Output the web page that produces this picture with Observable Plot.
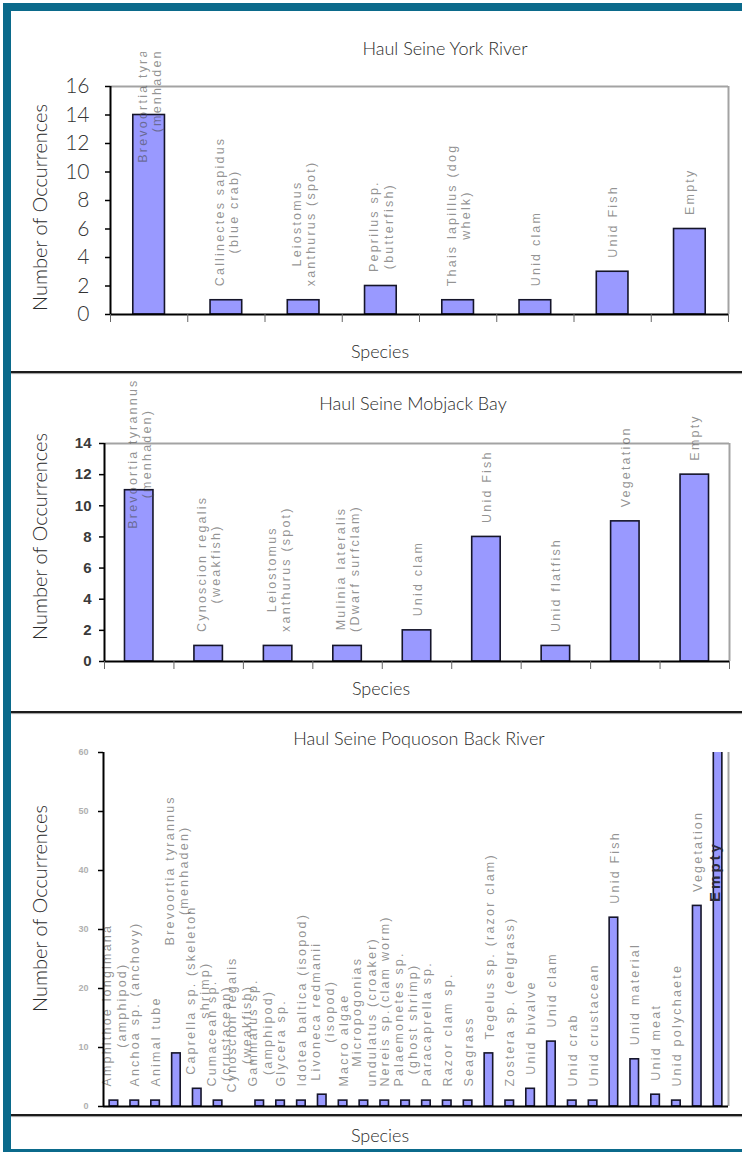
<!DOCTYPE html>
<html><head><meta charset="utf-8">
<script src="https://cdn.jsdelivr.net/npm/d3@7"></script>
<script src="https://cdn.jsdelivr.net/npm/@observablehq/plot@0.6"></script>
<style>
body{margin:0;background:#fff;}
#page{position:relative;width:742px;height:1152px;overflow:hidden;background:#fff;font-family:Lato,"Open Sans",sans-serif;}
.svgwrap{position:absolute;left:0;}
.svgwrap svg{overflow:hidden;display:block;}
.t{position:absolute;white-space:nowrap;transform:translate(-50%,-50%);color:#2a2a2a;font-size:18px;font-weight:300;line-height:1;z-index:3;}
.teal{position:absolute;background:#0b6a8b;z-index:5;}
.sep{position:absolute;left:11px;width:740px;height:2px;background:#1c1c1c;box-shadow:0 1px 1px #9a9a9a;z-index:4;}
</style></head><body><div id="page"></div><script>
// ---------- data ----------
const yorkSpecies = ["Brevoortia tyrannus\n(menhaden)", "Callinectes sapidus\n(blue crab)", "Leiostomus\nxanthurus (spot)", "Peprilus sp.\n(butterfish)", "Thais lapillus (dog\nwhelk)", "Unid clam", "Unid Fish", "Empty"];
const yorkCounts = [14, 1, 1, 2, 1, 1, 3, 6];
const yorkTicks = [0, 2, 4, 6, 8, 10, 12, 14, 16];

const mobjackSpecies = ["Brevoortia tyrannus\n(menhaden)", "Cynoscion regalis\n(weakfish)", "Leiostomus\nxanthurus (spot)", "Mulinia lateralis\n(Dwarf surfclam)", "Unid clam", "Unid Fish", "Unid flatfish", "Vegetation", "Empty"];
const mobjackCounts = [11, 1, 1, 1, 2, 8, 1, 9, 12];
const mobjackTicks = [0, 2, 4, 6, 8, 10, 12, 14];

const poqSpecies = ["Amphithoe longimana\n(amphipod)", "Anchoa sp. (anchovy)", "Animal tube", "Brevoortia tyrannus\n(menhaden)", "Caprella sp. (skeleton\nshrimp)", "Cumacean sp.\n(crustacean)", "Cynoscion regalis\n(weakfish)", "Gammarus sp.\n(amphipod)", "Glycera sp.", "Idotea baltica (isopod)", "Livoneca redmanii\n(isopod)", "Macro algae", "Micropogonias\nundulatus (croaker)", "Nereis sp.(clam worm)", "Palaemonetes sp.\n(ghost shrimp)", "Paracaprella sp.", "Razor clam sp.", "Seagrass", "Tegelus sp. (razor clam)", "Zostera sp. (eelgrass)", "Unid bivalve", "Unid clam", "Unid crab", "Unid crustacean", "Unid Fish", "Unid material", "Unid meat", "Unid polychaete", "Vegetation", "Empty"];
const poqCounts = [1, 1, 1, 9, 3, 1, 0, 1, 1, 1, 2, 1, 1, 1, 1, 1, 1, 1, 9, 1, 3, 11, 1, 1, 32, 8, 2, 1, 34, 62];
const poqTicks = [0, 10, 20, 30, 40, 50, 60];

const titles = ["Haul Seine York River", "Haul Seine Mobjack Bay", "Haul Seine Poquoson Back River"];
const yTitle = "Number of Occurrences";
const xTitle = "Species";

// ---------- helpers ----------
const W = 742;
const LABEL_FONT_SIZE = 12.5;
const LS = 2.2; // letter spacing of category labels
const GAP = 14;
const LABEL_FILL = "#4a4a4a";
const BOLD_FILL = "#2a2a3a";
const ctx = document.createElement("canvas").getContext("2d");
ctx.font = `${LABEL_FONT_SIZE}px "Liberation Sans"`;
const textW = s => ctx.measureText(s).width + LS * s.length;

const page = document.getElementById("page");
function addDiv(cls, css, txt) {
  const d = document.createElement("div");
  d.className = cls;
  Object.assign(d.style, css);
  if (txt != null) d.textContent = txt;
  page.appendChild(d);
  return d;
}

function panel(o) {
  const n = o.species.length;
  const step = (W - o.ml - o.mr) / n;
  const plotH = o.height - o.mt - o.mb;
  const k = plotH / o.yMax;
  const lift = o.labelLift || {};
  const data = o.species.map((s, i) => {
    const L = Math.max(...s.split("\n").map(textW));
    const v = o.counts[i];
    let c = Math.min(v, o.yMax) * k + GAP + L / 2 + (lift[s] || 0);
    if (c + L / 2 > o.maxAbove) c = o.maxAbove - L / 2;
    return {species: s, count: v, ly: c / k};
  });
  const labelData = data.filter(d => !(o.boldLabel && d.species === o.boldLabel));
  const marks = [];
  if (o.topLine) marks.push(Plot.ruleY([o.yMax], {stroke: "#a3a3a3", strokeWidth: 2}));
  marks.push(
    Plot.ruleX([o.species[n - 1]], {dx: step / 2, y1: 0, y2: o.yMax, stroke: "#a3a3a3", strokeWidth: 2}),
    Plot.barY(data.filter(d => d.count > 0), {x: "species", y: "count", fill: "#9999ff", stroke: "#15152a", strokeWidth: 1.6, clip: true}),
    Plot.text(labelData, {x: "species", y: "ly", text: "species", rotate: -90, textAnchor: "middle", lineAnchor: "middle", lineHeight: 1.15, fontSize: LABEL_FONT_SIZE, fontFamily: "Liberation Sans", fill: LABEL_FILL, fillOpacity: 0.6}),
    Plot.ruleY([0], {stroke: "#000", strokeWidth: 2}),
    Plot.ruleX([o.species[0]], {dx: -step / 2, y1: 0, y2: o.yMax, stroke: "#000", strokeWidth: 2}),
    Plot.axisY({ticks: o.yTicks, tickSize: 5, tickFormat: () => "", label: null, stroke: "#000", strokeWidth: 1.5}),
    Plot.text(o.yTicks, {y: d => d, text: d => String(d), frameAnchor: "left", dx: o.tickDx, textAnchor: "end", ...o.tickStyle}),
    Plot.text([yTitle], {text: d => d, frameAnchor: "left", textAnchor: "middle", dx: 40 - o.ml, dy: o.ytDy, rotate: -90, fontSize: 20, fontFamily: "Lato", fontWeight: 300, fill: "#2a2a2a"})
  );
  if (o.xTicks) {
    marks.push(
      Plot.axisX({ticks: o.species, tickSize: 8, tickFormat: () => "", label: null, dx: -step / 2, stroke: "#666"}),
      Plot.axisX({ticks: [o.species[n - 1]], tickSize: 8, tickFormat: () => "", label: null, dx: step / 2, stroke: "#666"})
    );
  }
  if (o.boldLabel) {
    marks.push(Plot.text([o.boldLabel], {x: d => d, text: d => d, frameAnchor: "top", dy: o.boldDy, dx: o.boldDx, rotate: -90, fontSize: 15, fontWeight: "bold", fontFamily: "Liberation Sans", fill: BOLD_FILL}));
  }
  const svg = Plot.plot({
    width: W, height: o.height,
    marginTop: o.mt, marginBottom: o.mb, marginLeft: o.ml, marginRight: o.mr,
    style: {background: "transparent", overflow: "hidden"},
    x: {type: "band", domain: o.species, paddingInner: 0.59, paddingOuter: 0.295, round: false, axis: null},
    y: {domain: [0, o.yMax], axis: null},
    marks
  });
  d3.select(svg).selectAll("text").each(function() {
    const g = this.closest("g");
    if (g && g.getAttribute("fill") === LABEL_FILL) this.style.letterSpacing = LS + "px";
    if (g && g.getAttribute("fill") === BOLD_FILL) this.style.letterSpacing = "3px";
  });
  svg.style.overflow = "hidden";
  const wrap = addDiv("svgwrap", {top: o.top + "px"});
  wrap.appendChild(svg);
}

// ---------- panels ----------
panel({species: yorkSpecies, counts: yorkCounts, yMax: 16, yTicks: yorkTicks,
  top: 52, height: 290, mt: 34, mb: 28, ml: 110, mr: 14, maxAbove: 302, topLine: true, xTicks: true,
  tickDx: -21, ytDy: 7,
  tickStyle: {fontSize: 21, fontFamily: "Lato", fontWeight: 300, fill: "#333"}});

panel({species: mobjackSpecies, counts: mobjackCounts, yMax: 14, yTicks: mobjackTicks,
  top: 376, height: 336, mt: 67, mb: 51, ml: 104, mr: 13, maxAbove: 283, topLine: true, xTicks: true,
  tickDx: -13, ytDy: -16,
  tickStyle: {fontSize: 15, fontFamily: "Liberation Sans Narrow, Arial Narrow, Liberation Sans", fontWeight: "bold", fill: "#3a3a3a"}});

panel({species: poqSpecies, counts: poqCounts, yMax: 60, yTicks: poqTicks,
  top: 715, height: 398, mt: 37, mb: 7, ml: 103, mr: 14, maxAbove: 1e9, topLine: false, xTicks: false,
  tickDx: -15, ytDy: -21, boldLabel: "Empty", boldDy: 119, boldDx: -9,
  labelLift: {"Brevoortia tyrannus\n(menhaden)": 94},
  tickStyle: {fontSize: 9, fontFamily: "Liberation Sans", fontWeight: "bold", fill: "#b0b0b0"}});

// ---------- titles ----------
addDiv("t", {left: "445px", top: "48px"}, titles[0]);
addDiv("t", {left: "413px", top: "403px"}, titles[1]);
addDiv("t", {left: "419px", top: "738px"}, titles[2]);
addDiv("t", {left: "380px", top: "351px"}, xTitle);
addDiv("t", {left: "381px", top: "688px"}, xTitle);
addDiv("t", {left: "380px", top: "1135px"}, xTitle);

// ---------- frame ----------
addDiv("teal", {left: "3px", top: "3px", width: "8px", height: "1149px"});
addDiv("teal", {left: "3px", top: "3px", width: "739px", height: "8px"});
addDiv("teal", {left: "3px", top: "1149px", width: "739px", height: "3px"});
addDiv("sep", {top: "371px"});
addDiv("sep", {top: "711px"});
addDiv("sep", {top: "1114px"});
</script></body></html>
